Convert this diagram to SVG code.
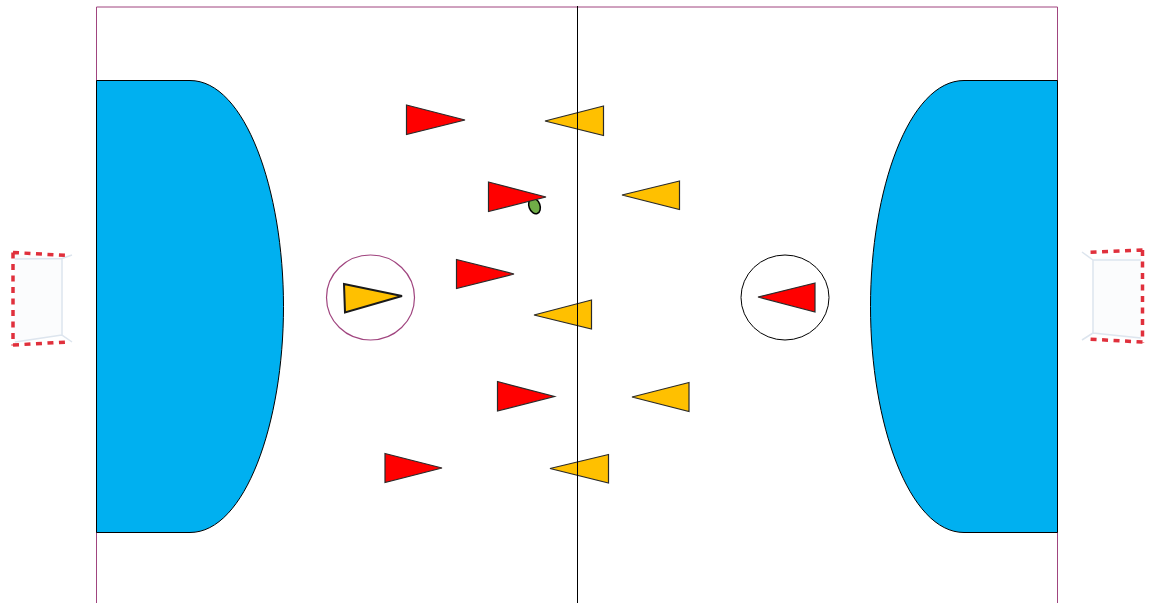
<svg xmlns="http://www.w3.org/2000/svg" width="1150" height="603" viewBox="0 0 1150 603">
<style>
.r{fill:#ff0000;stroke:#2a2a2a;stroke-width:1.200}
.y{fill:#ffc000;stroke:#2a2a2a;stroke-width:1.200}
.area{fill:#00b0f0;stroke:#000;stroke-width:1}
.net{fill:#fbfcfd;stroke:none}
.post{fill:none;stroke:#dde5ee;stroke-width:1.500}
.dash{fill:none;stroke:#e0303c;stroke-width:3.500;stroke-dasharray:6 5.500}
</style>
<rect width="1150" height="603" fill="#fff"/>
<g id="court">
<path d="M96.500 603V7H1057.500V603" fill="none" stroke="#a0457f" stroke-width="1"/>
</g>
<g id="left-area"><path class="area" d="M96.500 80.500H190C245 80.500 283.500 190 283.500 306.500C283.500 423 245 532.500 190 532.500H96.500Z"/></g>
<g id="right-area"><path class="area" d="M1057.500 80.500H964C909 80.500 870.500 190 870.500 306.500C870.500 423 909 532.500 964 532.500H1057.500Z"/></g>
<g id="left-goal">
<path class="net" d="M14 254L62 258V335L14 344Z"/>
<path class="post" d="M15 259L62 258.500L72 255M62 258.500V335L72 342M15 342L62 335"/>
<path class="dash" d="M13 252.500L68 255.500M13 252.500V345.500M13 345L68 342"/>
</g>
<g id="right-goal">
<path class="net" d="M1141 252L1093 259V334L1141 340Z"/>
<path class="post" d="M1141 260L1093 260L1082 252M1093 260V333L1082 340M1141 338L1093 333"/>
<path class="dash" d="M1142.500 250L1087 252.500M1142.500 250V342.500M1142.500 342L1087 339"/>
</g>
<g id="ball"><ellipse cx="534.500" cy="206" rx="5.500" ry="8" transform="rotate(-20 534.500 206)" fill="#70ad47" stroke="#000" stroke-width="1.500"/></g>
<g id="left-keeper-ring"><ellipse cx="370.500" cy="297.500" rx="44" ry="42.500" fill="#fff" stroke="#a0457f" stroke-width="1.200"/></g>
<g id="right-keeper-ring"><ellipse cx="785" cy="297.500" rx="44" ry="42.500" fill="#fff" stroke="#000" stroke-width="1"/></g>
<g id="red-1"><polygon class="r" points="406.500,105 465,120 406.500,134.500"/></g>
<g id="red-2"><polygon class="r" points="488.500,182 546,197 488.500,211.500"/></g>
<g id="red-3"><polygon class="r" points="456.500,259.500 514,274 456.500,288.500"/></g>
<g id="red-4"><polygon class="r" points="497.500,381.500 554.500,396.500 497.500,411"/></g>
<g id="red-5"><polygon class="r" points="385,453.500 442,468 385,482.500"/></g>
<g id="red-keeper"><polygon class="r" points="815,283 758,297 815,312"/></g>
<g id="yellow-1"><polygon class="y" points="603.500,106 545,121 603.500,135.500"/></g>
<g id="yellow-2"><polygon class="y" points="679.500,181 622,195 679.500,209.500"/></g>
<g id="yellow-3"><polygon class="y" points="591.500,300 534,315 591.500,329"/></g>
<g id="yellow-4"><polygon class="y" points="689,382.500 632,397 689,411.500"/></g>
<g id="yellow-5"><polygon class="y" points="608.500,454.500 550,468.500 608.500,483"/></g>
<g id="yellow-keeper"><polygon points="344,284 402,296 345,312.500" fill="#ffc000" stroke="#1a1a1a" stroke-width="2"/></g>
<g id="center-line"><line x1="577.500" y1="6" x2="577.500" y2="603" stroke="#000" stroke-width="1"/></g>
</svg>
